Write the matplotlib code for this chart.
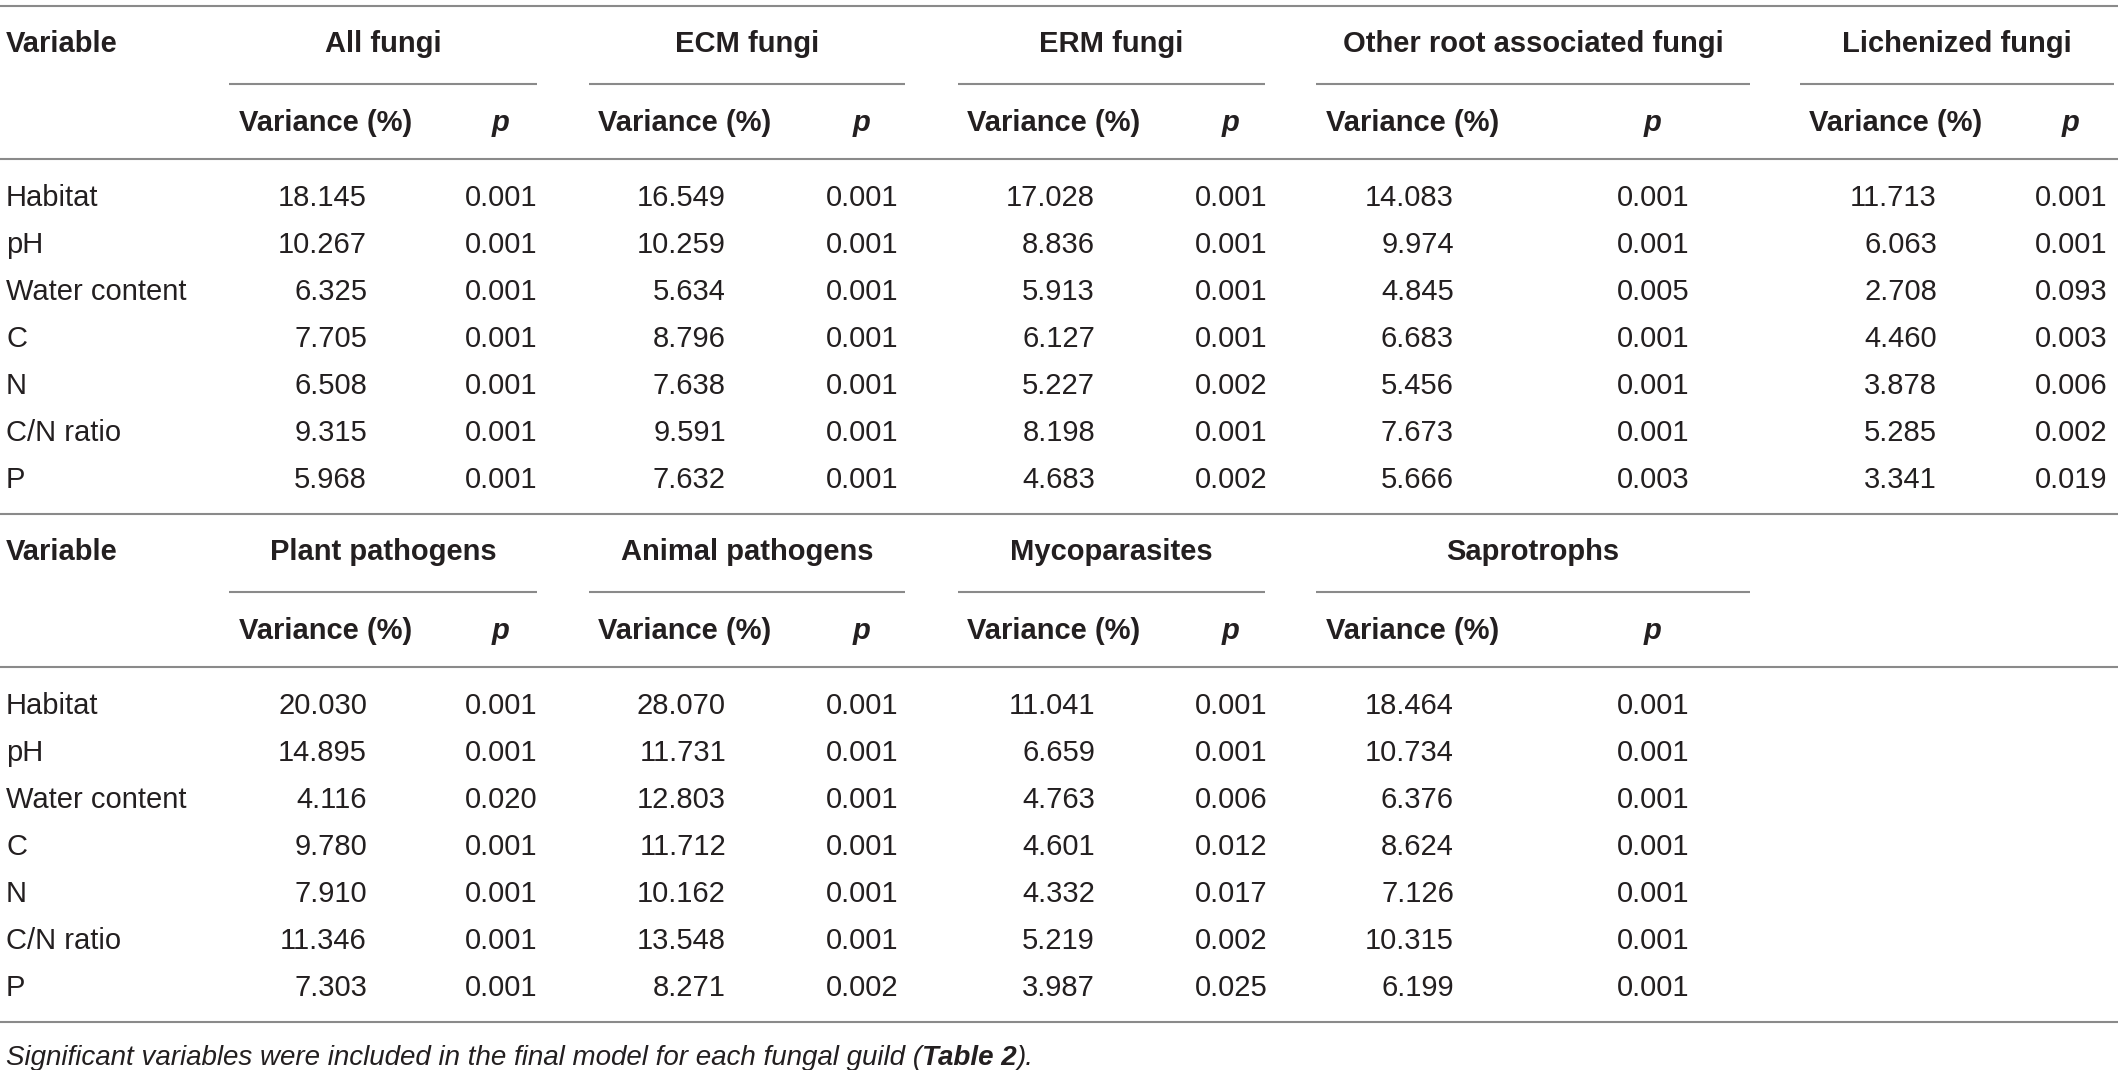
import matplotlib

matplotlib.use("Agg")
import matplotlib.pyplot as plt

plt.rcParams['font.family'] = ['Liberation Sans', 'DejaVu Sans']

VARIABLES = ['Habitat', 'pH', 'Water content', 'C', 'N', 'C/N ratio', 'P']

TOP_GROUPS = ['All fungi', 'ECM fungi', 'ERM fungi',
              'Other root associated fungi', 'Lichenized fungi']
BOTTOM_GROUPS = ['Plant pathogens', 'Animal pathogens', 'Mycoparasites',
                 'Saprotrophs']

ALL_VAR = ['18.145', '10.267', '6.325', '7.705', '6.508', '9.315', '5.968']
ALL_P = ['0.001', '0.001', '0.001', '0.001', '0.001', '0.001', '0.001']
ECM_VAR = ['16.549', '10.259', '5.634', '8.796', '7.638', '9.591', '7.632']
ECM_P = ['0.001', '0.001', '0.001', '0.001', '0.001', '0.001', '0.001']
ERM_VAR = ['17.028', '8.836', '5.913', '6.127', '5.227', '8.198', '4.683']
ERM_P = ['0.001', '0.001', '0.001', '0.001', '0.002', '0.001', '0.002']
ROOT_VAR = ['14.083', '9.974', '4.845', '6.683', '5.456', '7.673', '5.666']
ROOT_P = ['0.001', '0.001', '0.005', '0.001', '0.001', '0.001', '0.003']
LICH_VAR = ['11.713', '6.063', '2.708', '4.460', '3.878', '5.285', '3.341']
LICH_P = ['0.001', '0.001', '0.093', '0.003', '0.006', '0.002', '0.019']

PLANT_VAR = ['20.030', '14.895', '4.116', '9.780', '7.910', '11.346', '7.303']
PLANT_P = ['0.001', '0.001', '0.020', '0.001', '0.001', '0.001', '0.001']
ANIMAL_VAR = ['28.070', '11.731', '12.803', '11.712', '10.162', '13.548',
              '8.271']
ANIMAL_P = ['0.001', '0.001', '0.001', '0.001', '0.001', '0.001', '0.002']
MYCO_VAR = ['11.041', '6.659', '4.763', '4.601', '4.332', '5.219', '3.987']
MYCO_P = ['0.001', '0.001', '0.006', '0.012', '0.017', '0.002', '0.025']
SAPRO_VAR = ['18.464', '10.734', '6.376', '8.624', '7.126', '10.315', '6.199']
SAPRO_P = ['0.001', '0.001', '0.001', '0.001', '0.001', '0.001', '0.001']

FOOT_TEXT = "Significant variables were included in the final model for each fungal guild ("
FOOT_BOLD = "Table 2"
FOOT_END = ")."

TEXT_C = '#231f20'
LINE_C = '#8a8a8a'
FS = 21
W, H = 2118, 1070

# column geometry: underline span, p-centre
SPANS = [(229, 537), (589, 905), (958, 1265), (1316, 1750), (1800, 2114)]
VAR_LEFT = [239, 598, 967, 1326, 1809]
P_CENTER = [501, 862, 1231, 1653, 2071]
ROW_STEP = 47


def hline(ax, y, x0=0, x1=W):
    ax.plot([x0, x1], [y, y], color=LINE_C, lw=1.5, solid_capstyle='butt')


def draw_block(ax, top, groups, var_cols, p_cols):
    hline(ax, top)
    base = top + 36
    ax.text(6, base + 10, 'Variable', fontsize=FS, fontweight='bold',
            color=TEXT_C, va='baseline', ha='left')
    for i, g in enumerate(groups):
        x0, x1 = SPANS[i]
        ax.text((x0 + x1) / 2, base + 10, g, fontsize=FS, fontweight='bold',
                color=TEXT_C, va='baseline', ha='center')
        hline(ax, top + 78, x0, x1)
        ax.text(VAR_LEFT[i], top + 115 + 10, 'Variance (%)', fontsize=FS,
                fontweight='bold', color=TEXT_C, va='baseline', ha='left')
        ax.text(P_CENTER[i], top + 115 + 10, 'p', fontsize=FS,
                fontweight='bold', style='italic', color=TEXT_C,
                va='baseline', ha='center')
    hline(ax, top + 153)
    for r, v in enumerate(VARIABLES):
        y = top + 190 + r * ROW_STEP + 10
        ax.text(6, y, v, fontsize=FS, color=TEXT_C, va='baseline', ha='left')
        for i in range(len(groups)):
            vright = VAR_LEFT[i] + 128
            ax.text(vright, y, var_cols[i][r], fontsize=FS, color=TEXT_C,
                    va='baseline', ha='right')
            ax.text(P_CENTER[i], y, p_cols[i][r], fontsize=FS, color=TEXT_C,
                    va='baseline', ha='center')
    return top + 190 + 6 * ROW_STEP + 36


fig = plt.figure(figsize=(W / 100, H / 100), dpi=100)
ax = fig.add_axes([0, 0, 1, 1])
ax.set_xlim(0, W)
ax.set_ylim(H, 0)
ax.axis('off')

sep = draw_block(ax, 6, TOP_GROUPS,
                 [ALL_VAR, ECM_VAR, ERM_VAR, ROOT_VAR, LICH_VAR],
                 [ALL_P, ECM_P, ERM_P, ROOT_P, LICH_P])
bottom = draw_block(ax, sep, BOTTOM_GROUPS,
                    [PLANT_VAR, ANIMAL_VAR, MYCO_VAR, SAPRO_VAR],
                    [PLANT_P, ANIMAL_P, MYCO_P, SAPRO_P])
hline(ax, bottom)

# footnote, pieced together so the bold part follows the italic text
fig.canvas.draw()
renderer = fig.canvas.get_renderer()
inv = ax.transData.inverted()
fy = bottom + 43
x = 6
for txt, weight in [(FOOT_TEXT, 'normal'), (FOOT_BOLD, 'bold'),
                    (FOOT_END, 'normal')]:
    t = ax.text(x, fy, txt, fontsize=FS - 1, style='italic', fontweight=weight,
                color=TEXT_C, va='baseline', ha='left')
    bb = t.get_window_extent(renderer=renderer)
    x = inv.transform((bb.x1, bb.y0))[0]

fig.savefig("out.png", dpi=100)
